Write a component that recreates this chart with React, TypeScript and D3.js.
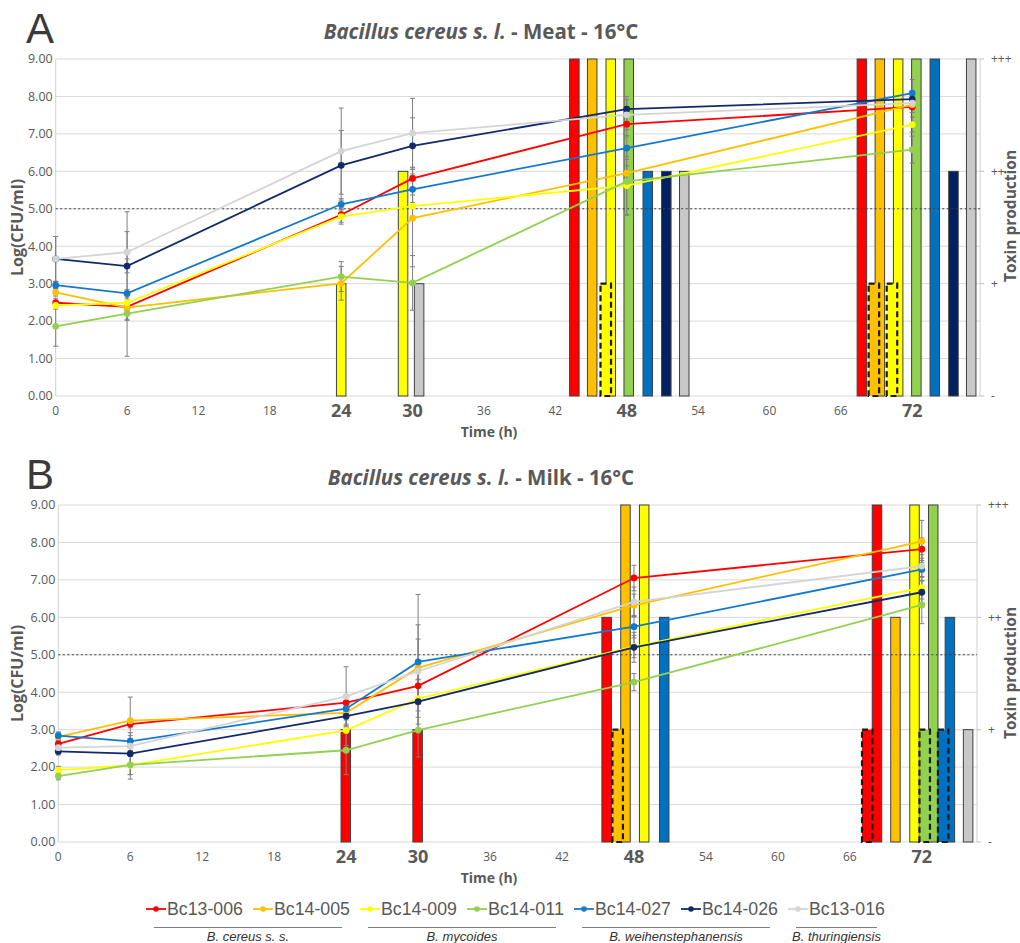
import React from "react";
import * as d3 from "d3";

// sampling times (h) and strains
const hours = [0, 6, 24, 30, 48, 72];
const strains = ["Bc13-006", "Bc14-005", "Bc14-009", "Bc14-011", "Bc14-027", "Bc14-026", "Bc13-016"];
const lineColors = ["#FF0000", "#FFC000", "#FFFF00", "#92D050", "#1479CC", "#12296A", "#D4D4D4"];
const barColors = ["#FF0000", "#FFC000", "#FFFF00", "#92D050", "#0070C0", "#002060", "#C8C8C8"];
const species = ["B. cereus s. s.", "B. mycoides", "B. weihenstephanensis", "B. thuringiensis"];
const speciesFirst = [0, 2, 4, 6];
const speciesLast = [1, 3, 5, 6];

const bigHours = [24, 30, 48, 72];
const smallHours = [0, 6, 12, 18, 36, 42, 54, 60, 66];
const logTicks = [0, 1, 2, 3, 4, 5, 6, 7, 8, 9];
const toxinTicks = [0, 3, 6, 9];
const toxinLabels = ["-", "+", "++", "+++"];

// Log(CFU/ml) means, one row per strain, columns = hours
const meatMeans = [
  [2.49, 2.38, 4.84, 5.81, 7.26, 7.72],
  [2.77, 2.36, 3.01, 4.75, 5.95, 7.78],
  [2.42, 2.49, 4.79, 5.07, 5.62, 7.25],
  [1.86, 2.2, 3.19, 3.02, 5.73, 6.58],
  [2.96, 2.74, 5.12, 5.52, 6.62, 8.09],
  [3.66, 3.47, 6.16, 6.68, 7.66, 7.93],
  [3.66, 3.84, 6.54, 7.02, 7.51, 7.82],
];
const meatSD = [
  [0.12, 0.1, 0.2, 0.3, 0.3, 0.15],
  [0.1, 1.3, 0.45, 1.3, 0.2, 0.1],
  [0.1, 0.1, 0.2, 0.3, 0.78, 0.2],
  [0.53, 0.15, 0.4, 0.73, 0.9, 0.36],
  [0.1, 0.1, 0.15, 0.35, 0.3, 0.36],
  [0.6, 1.45, 0.93, 0.75, 0.34, 0.1],
  [0.6, 0.55, 1.15, 0.93, 0.4, 0.1],
];
const milkMeans = [
  [2.62, 3.15, 3.72, 4.17, 7.05, 7.82],
  [2.81, 3.24, 3.45, 4.65, 6.32, 8.03],
  [1.92, 2.05, 2.98, 3.83, 5.22, 6.79],
  [1.76, 2.06, 2.45, 2.99, 4.27, 6.33],
  [2.84, 2.69, 3.56, 4.81, 5.75, 7.28],
  [2.42, 2.36, 3.36, 3.75, 5.2, 6.67],
  [2.52, 2.56, 3.89, 4.56, 6.41, 7.37],
];
const milkSD = [
  [0.1, 0.1, 0.2, 0.5, 0.34, 0.3],
  [0.1, 0.63, 0.3, 1.15, 0.3, 0.56],
  [0.1, 0.25, 0.4, 0.5, 0.3, 0.3],
  [0.1, 0.38, 0.65, 0.72, 0.23, 0.5],
  [0.1, 0.15, 0.3, 1.8, 0.3, 0.3],
  [0.1, 0.56, 0.3, 0.6, 0.4, 0.3],
  [0.1, 0.2, 0.79, 0.86, 0.4, 0.3],
];

// toxin production bars: strain index, hour position, level (3 = +, 6 = ++, 9 = +++), dashed outline
const meatBarStrain = [2, 2, 6, 0, 1, 2, 3, 4, 5, 6, 2, 0, 1, 2, 3, 4, 5, 6, 1, 2];
const meatBarHour = [24.0, 29.2, 30.55, 43.6, 45.1, 46.66, 48.17, 49.77, 51.33, 52.84, 46.24, 67.77, 69.28, 70.82, 72.35, 73.9, 75.47, 76.96, 68.78, 70.3];
const meatBarLevel = [3, 6, 3, 9, 9, 9, 9, 6, 6, 6, 3, 9, 9, 9, 9, 9, 6, 9, 3, 3];
const meatBarDashed = [0, 0, 0, 0, 0, 0, 0, 0, 0, 0, 1, 0, 0, 0, 0, 0, 0, 0, 1, 1];

const milkBarStrain = [0, 0, 0, 1, 1, 2, 4, 0, 0, 1, 2, 3, 3, 4, 4, 6];
const milkBarHour = [23.97, 29.96, 45.72, 46.64, 47.29, 48.85, 50.52, 67.45, 68.26, 69.8, 71.39, 72.24, 72.95, 73.78, 74.34, 75.86];
const milkBarLevel = [3, 3, 6, 3, 9, 9, 6, 3, 9, 6, 9, 3, 9, 3, 6, 3];
const milkBarDashed = [0, 0, 0, 1, 0, 0, 0, 1, 0, 0, 0, 1, 0, 1, 0, 0];

const FONT = "'Open Sans', 'DejaVu Sans', sans-serif";
const GREY = "#595959";

type PanelProps = {
  letter: string;
  subject: string;
  top: number;
  bottom: number;
  x0: number;
  x1: number;
  xMax: number;
  means: number[][];
  sd: number[][];
  barStrain: number[];
  barHour: number[];
  barLevel: number[];
  barDashed: number[];
  toxinY: number;
};

function Panel(props: PanelProps) {
  const { top, bottom, x0, x1 } = props;
  const x = d3.scaleLinear().domain([0, props.xMax]).range([x0, x1]);
  const y = d3.scaleLinear().domain([0, 9]).range([bottom, top]);
  const line = d3
    .line<number>()
    .x((_, i) => x(hours[i]))
    .y((d) => y(d));
  const midY = (top + bottom) / 2;

  const barIdx = d3.range(props.barStrain.length);
  const solid = barIdx.filter((i) => !props.barDashed[i]);
  const dashed = barIdx.filter((i) => props.barDashed[i]);

  return (
    <g>
      <text x={26} y={top - 16} fontFamily="'Liberation Sans', Arial, sans-serif" fontSize={42} fill="#3a3a3a">
        {props.letter}
      </text>
      <text x={481} y={top - 20} textAnchor="middle" fontFamily={FONT} fontSize={20.5} fontWeight="bold" fill={GREY}>
        <tspan fontStyle="italic">Bacillus cereus s. l.</tspan>
        <tspan>{` - ${props.subject} - 16°C`}</tspan>
      </text>

      {/* gridlines */}
      {logTicks.map((t) => (
        <line key={"g" + t} x1={x0} x2={x1} y1={y(t)} y2={y(t)} stroke="#D9D9D9" strokeWidth={1} />
      ))}
      <line x1={x0} x2={x0} y1={top} y2={bottom} stroke="#D0D0D0" />
      <line x1={x1} x2={x1} y1={top} y2={bottom} stroke="#D0D0D0" />
      {toxinTicks.map((t, i) => (
        <g key={"r" + t}>
          <line x1={x1} x2={x1 + 4} y1={y(t)} y2={y(t)} stroke="#BFBFBF" />
          <text x={x1 + 11} y={y(t)} dy="0.35em" fontFamily={FONT} fontSize={12} fill={GREY}>
            {toxinLabels[i]}
          </text>
        </g>
      ))}
      {logTicks.map((t) => (
        <text key={"l" + t} x={x0 - 3} y={y(t)} dy="0.35em" textAnchor="end" fontFamily={FONT} fontSize={12.5} fill={GREY}>
          {t.toFixed(2)}
        </text>
      ))}
      {smallHours.map((h) => (
        <text key={"s" + h} x={x(h)} y={bottom + 19} textAnchor="middle" fontFamily={FONT} fontSize={12} fill={GREY}>
          {h}
        </text>
      ))}
      {bigHours.map((h) => (
        <text key={"b" + h} x={x(h)} y={bottom + 21} textAnchor="middle" fontFamily={FONT} fontSize={18} fontWeight="bold" fill={GREY}>
          {h}
        </text>
      ))}
      <text x={489} y={bottom + 41} textAnchor="middle" fontFamily={FONT} fontSize={14} fontWeight="bold" fill={GREY}>
        Time (h)
      </text>
      <text
        transform={`translate(23,${midY}) rotate(-90)`}
        textAnchor="middle"
        fontFamily={FONT}
        fontSize={16}
        fontWeight="bold"
        fill={GREY}
      >
        Log(CFU/ml)
      </text>
      <text
        transform={`translate(1016,${props.toxinY}) rotate(-90)`}
        textAnchor="middle"
        fontFamily={FONT}
        fontSize={15.5}
        fontWeight="bold"
        fill={GREY}
      >
        Toxin production
      </text>

      {/* toxin bars */}
      {solid.map((i) => (
        <rect
          key={"bar" + i}
          x={x(props.barHour[i]) - 4.75}
          width={9.5}
          y={y(props.barLevel[i])}
          height={y(0) - y(props.barLevel[i])}
          fill={barColors[props.barStrain[i]]}
          stroke="#404040"
          strokeWidth={1}
        />
      ))}
      {dashed.map((i) => (
        <rect
          key={"dbar" + i}
          x={x(props.barHour[i]) - 5.25}
          width={10.5}
          y={y(props.barLevel[i])}
          height={y(0) - y(props.barLevel[i])}
          fill={barColors[props.barStrain[i]]}
          stroke="#1a1a1a"
          strokeWidth={2.2}
          strokeDasharray="6,3.5"
        />
      ))}

      {/* threshold */}
      <line x1={x0} x2={x1} y1={y(5)} y2={y(5)} stroke="#404040" strokeWidth={1} strokeDasharray="2,2.5" />

      {/* error bars */}
      {props.means.map((row, s) =>
        row.map((m, i) => {
          const e = props.sd[s][i];
          const cx = x(hours[i]);
          return (
            <g key={`e${s}-${i}`} stroke="#7F7F7F" strokeWidth={1}>
              <line x1={cx} x2={cx} y1={y(m - e)} y2={y(m + e)} />
              <line x1={cx - 2.5} x2={cx + 2.5} y1={y(m - e)} y2={y(m - e)} />
              <line x1={cx - 2.5} x2={cx + 2.5} y1={y(m + e)} y2={y(m + e)} />
            </g>
          );
        })
      )}

      {/* growth curves */}
      {props.means.map((row, s) => (
        <g key={"s" + s}>
          <path d={line(row) || ""} fill="none" stroke={lineColors[s]} strokeWidth={1.8} />
          {row.map((m, i) => (
            <circle key={i} cx={x(hours[i])} cy={y(m)} r={3.4} fill={lineColors[s]} />
          ))}
        </g>
      ))}
    </g>
  );
}

function Legend() {
  const lx = d3.scalePoint<number>().domain(d3.range(strains.length)).range([146, 788]);
  return (
    <g>
      {strains.map((name, i) => {
        const sx = lx(i) as number;
        return (
          <g key={name}>
            <line x1={sx} x2={sx + 20} y1={909} y2={909} stroke={lineColors[i]} strokeWidth={1.8} />
            <circle cx={sx + 10} cy={909} r={2.8} fill={lineColors[i]} />
            <text
              x={sx + 21}
              y={915}
              fontFamily="'Liberation Sans Narrow', 'Liberation Sans', sans-serif"
              fontSize={18}
              fill={GREY}
              textLength={76}
              lengthAdjust="spacingAndGlyphs"
            >
              {name}
            </text>
          </g>
        );
      })}
      {species.map((sp, k) => {
        const a = (lx(speciesFirst[k]) as number) + 8;
        const b = (lx(speciesLast[k]) as number) + 89;
        return (
          <g key={sp}>
            <line x1={a} x2={b} y1={927.5} y2={927.5} stroke="#7F7F7F" strokeWidth={1} />
            <text
              x={(a + b) / 2}
              y={941}
              textAnchor="middle"
              fontFamily="'Liberation Sans', Arial, sans-serif"
              fontStyle="italic"
              fontSize={13}
              fill="#333"
            >
              {sp}
            </text>
          </g>
        );
      })}
    </g>
  );
}

export default function App() {
  return (
    <div style={{ position: "absolute", left: 0, top: 0 }}>
      <svg width={1020} height={943} style={{ display: "block", background: "#fff" }}>
        <Panel
          letter="A"
          subject="Meat"
          top={59}
          bottom={396}
          x0={55.7}
          x1={980}
          xMax={77.7}
          means={meatMeans}
          sd={meatSD}
          barStrain={meatBarStrain}
          barHour={meatBarHour}
          barLevel={meatBarLevel}
          barDashed={meatBarDashed}
          toxinY={216}
        />
        <Panel
          letter="B"
          subject="Milk"
          top={505}
          bottom={842}
          x0={58.3}
          x1={977}
          xMax={76.6}
          means={milkMeans}
          sd={milkSD}
          barStrain={milkBarStrain}
          barHour={milkBarHour}
          barLevel={milkBarLevel}
          barDashed={milkBarDashed}
          toxinY={673}
        />
        <Legend />
      </svg>
    </div>
  );
}
